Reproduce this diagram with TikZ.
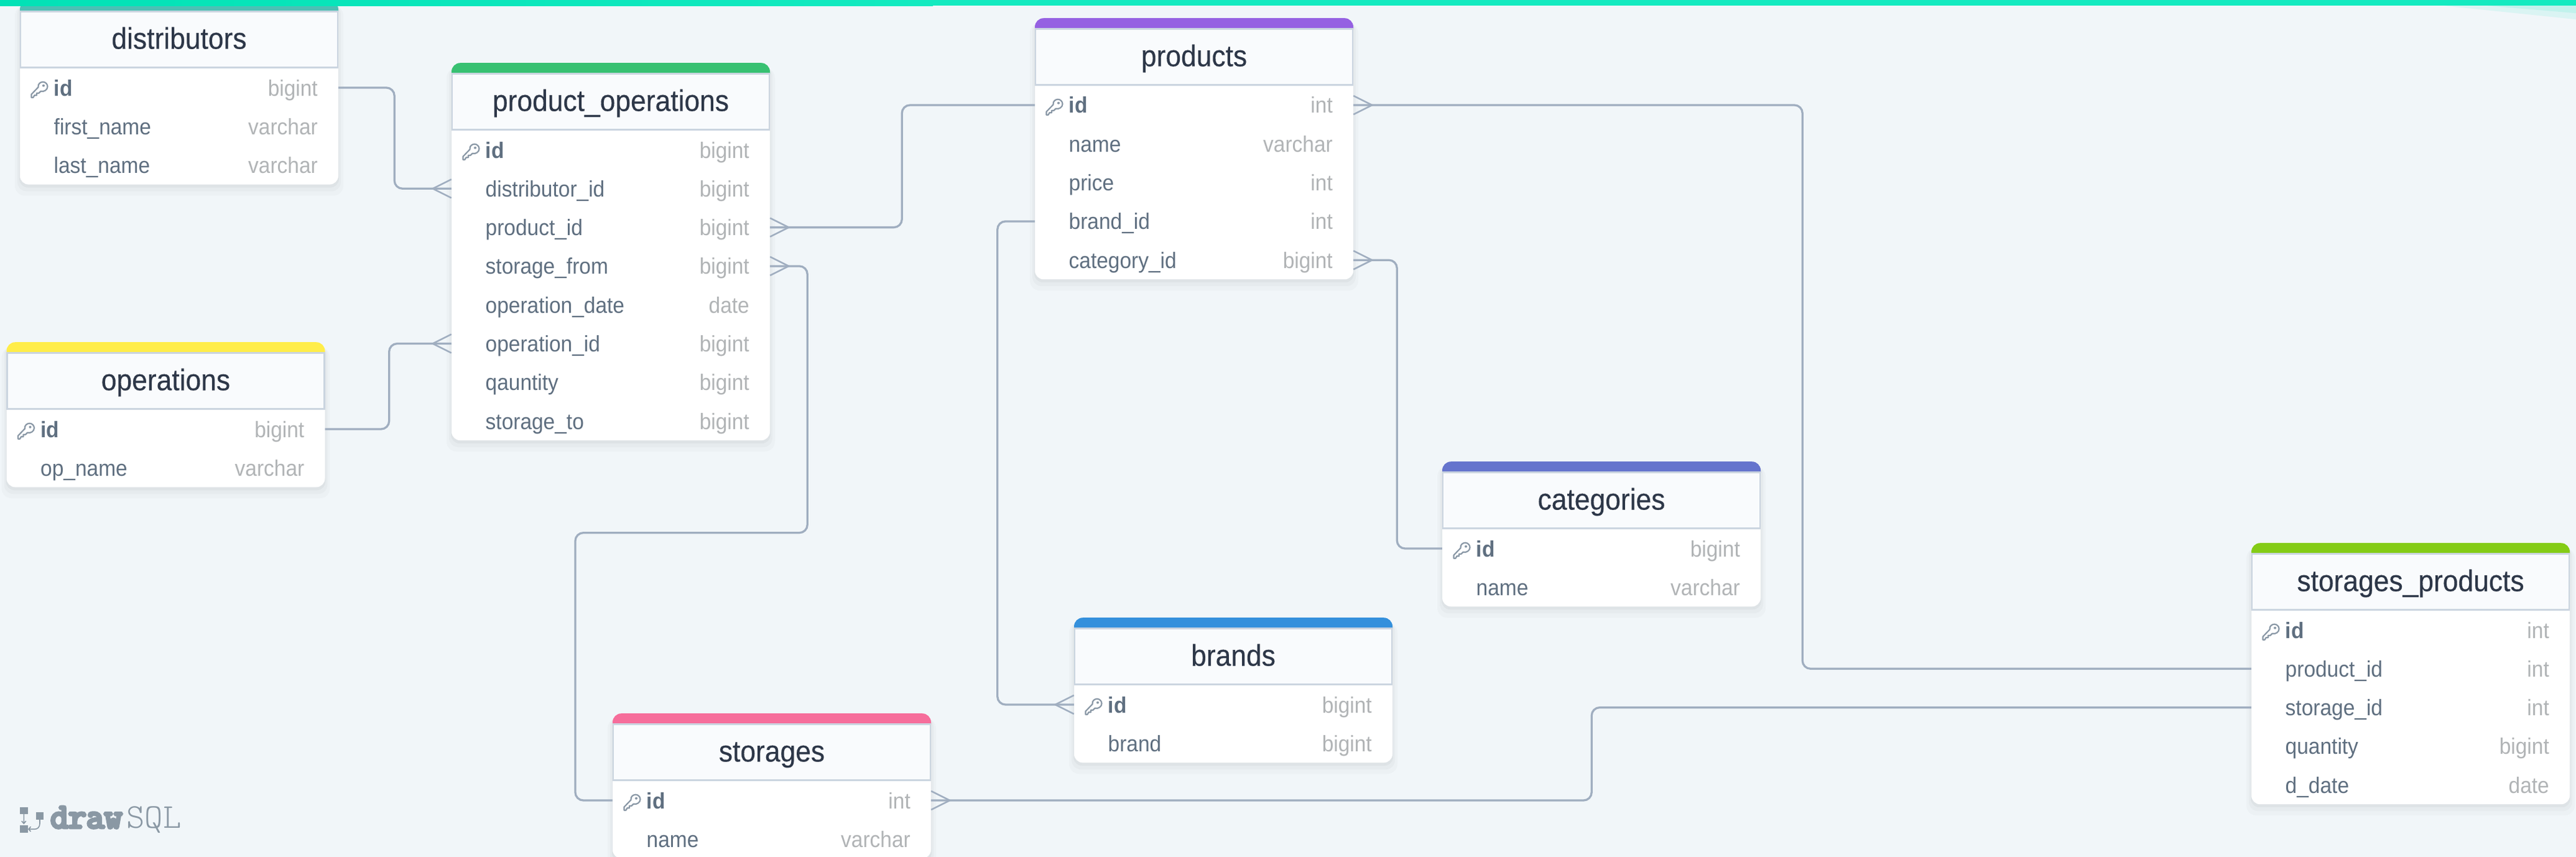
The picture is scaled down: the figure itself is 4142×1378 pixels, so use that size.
\documentclass[tikz,border=0pt]{standalone}
\usepackage{fontspec}
\setmainfont[FakeStretch=0.93]{Liberation Sans}
\newfontfamily\titlefont[FakeStretch=0.925,FakeBold=0.25]{Liberation Sans}
\newfontfamily\logoheavy[FakeBold=8]{Latin Modern Mono}
\newfontfamily\logothin{Latin Modern Mono Light}
\definecolor{canvasbg}{HTML}{F1F6F9}
\definecolor{headbg}{HTML}{F9FBFD}
\definecolor{headline}{HTML}{CBD5E0}
\definecolor{connline}{HTML}{A0AEC0}
\definecolor{fieldtxt}{HTML}{5F6F80}
\definecolor{typetxt}{HTML}{B1B4B6}
\definecolor{titletxt}{HTML}{2D3748}
\definecolor{keycol}{HTML}{8A98A6}
\definecolor{logocol}{HTML}{8A98A4}
\definecolor{topleft}{HTML}{02E2B6}
\definecolor{topright}{HTML}{14EAC0}
\definecolor{barteal}{HTML}{4DC0B5}
\definecolor{bargreen}{HTML}{38C172}
\definecolor{barpurple}{HTML}{9561E2}
\definecolor{baryellow}{HTML}{FFED4A}
\definecolor{barindigo}{HTML}{6574CD}
\definecolor{barblue}{HTML}{3490DC}
\definecolor{barpink}{HTML}{F66D9B}
\definecolor{barlime}{HTML}{84CC16}
\tikzset{
  x=1pt,y=-1pt,
  connector/.style={draw=connline,line width=3.3pt,rounded corners=13pt},
  crowfoot/.style={draw=connline,line width=2.6pt,line join=miter},
  rowanchor/.style={rectangle,inner sep=0pt,minimum width=512pt,minimum height=62pt},
  tablebody/.style={rectangle,fill=white,rounded corners=14pt,inner sep=0pt,minimum width=512pt},
  tablehead/.style={rectangle,fill=headbg,draw=headline,line width=2.5pt,inner sep=0pt,minimum width=510pt,minimum height=90pt},
  tabletitle/.style={anchor=base,inner sep=0pt,text=titletxt,font=\titlefont\fontsize{48}{54}\selectfont},
  fieldname/.style={anchor=base west,inner sep=0pt,text=fieldtxt,font=\fontsize{36}{42}\selectfont},
  fieldkey/.style={anchor=base west,inner sep=0pt,text=fieldtxt,font=\fontsize{36}{42}\selectfont\bfseries},
  fieldtype/.style={anchor=base east,inner sep=0pt,text=typetxt,font=\fontsize{36}{42}\selectfont},
  logotext/.style={anchor=base west,inner sep=0pt,text=logocol},
}
% key icon: #1 x of table, #2 y of icon top
\newcommand\keyicon[2]{%
  \begin{scope}[shift={(#1+18,#2)}]
    \draw[keycol,line width=2.2pt,line join=round]
      (11.5,9) .. controls (10.5,3) and (16,0.5) .. (19,0.5)
      .. controls (23,0.5) and (26.5,4) .. (26.5,8)
      .. controls (26.5,13) and (21,17) .. (15.5,15.5)
      -- (12.5,18.5) -- (9,18.5) -- (9,22) -- (5.5,22) -- (3.5,25.5) -- (0.5,25.5) -- (0.5,20.5) -- cycle;
    \fill[keycol] (20,6.5) circle (2);
  \end{scope}}
% #1 id, #2 x, #3 top y, #4 colour, #5 title, #6 number of rows, #7 rows
\newcommand\ertable[7]{%
  \fill[black,opacity=0.018,rounded corners=16pt] (#2-8,#3+8) rectangle (#2+520,#3+108.5+62.3*#6+18);
  \fill[black,opacity=0.022,rounded corners=15pt] (#2-4,#3+6) rectangle (#2+516,#3+108.5+62.3*#6+11);
  \fill[black,opacity=0.03,rounded corners=14pt] (#2-1,#3+4) rectangle (#2+513,#3+108.5+62.3*#6+5);
  \node[tablebody,minimum height={108.5pt+62.3pt*#6}] (#1) at (#2+256,#3+54.25+31.15*#6) {};
  \fill[#4] (#2,#3+18) [rounded corners=14pt] -- (#2,#3) -- (#2+512,#3) [sharp corners] -- (#2+512,#3+18) -- cycle;
  \node[tablehead] (#1-head) at (#2+256,#3+62.5) {};
  \node[tabletitle] (#1-title) at (#2+256,#3+77.3) {#5};
  \foreach \fnm/\fty [count=\fidx from 0] in {#7} {
    \node[rowanchor] (#1-\fidx) at (#2+256,#3+139.8+62.3*\fidx) {};
    \ifnum\fidx=0
      \keyicon{#2}{#3+130}
      \node[fieldkey] (#1-\fidx-name) at (#2+54.5,#3+152.8+62.3*\fidx) {\fnm};
    \else
      \node[fieldname] (#1-\fidx-name) at (#2+54.5,#3+152.8+62.3*\fidx) {\fnm};
    \fi
    \node[fieldtype] (#1-\fidx-type) at (#2+479,#3+152.8+62.3*\fidx) {\fty};
  }}
\newcommand\footleft[1]{\draw[crowfoot] (#1.west) ++(0,-15) -- ++(-30,15) -- ++(30,15);}
\newcommand\footright[1]{\draw[crowfoot] (#1.east) ++(0,-15) -- ++(30,15) -- ++(-30,15);}
\begin{document}
\begin{tikzpicture}
\useasboundingbox (0,0) rectangle (4142,1378);
\clip (0,0) rectangle (4142,1378);
\fill[canvasbg] (0,0) rectangle (4142,1378);
\begin{scope}[shift={(0,1.2)}]

\ertable{dist}{32}{0}{barteal}{distributors}{3}{id/bigint,first\_name/varchar,last\_name/varchar}
\ertable{pop}{726}{100}{bargreen}{product\_operations}{8}{id/bigint,distributor\_id/bigint,product\_id/bigint,storage\_from/bigint,operation\_date/date,operation\_id/bigint,qauntity/bigint,storage\_to/bigint}
\ertable{prod}{1664}{28}{barpurple}{products}{5}{id/int,name/varchar,price/int,brand\_id/int,category\_id/bigint}
\ertable{oper}{10.5}{549}{baryellow}{operations}{2}{id/bigint,op\_name/varchar}
\ertable{cat}{2319}{741}{barindigo}{categories}{2}{id/bigint,name/varchar}
\ertable{brand}{1727}{992}{barblue}{brands}{2}{id/bigint,brand/bigint}
\ertable{stor}{985}{1146}{barpink}{storages}{2}{id/int,name/varchar}
\ertable{sp}{3620}{872}{barlime}{storages\_products}{5}{id/int,product\_id/int,storage\_id/int,quantity/bigint,d\_date/date}

% relations
\draw[connector] (dist-0.east) -- ++(90,0) |- (pop-1.west);
\footleft{pop-1}
\draw[connector] (oper-0.east) -- ++(103,0) |- (pop-5.west);
\footleft{pop-5}
\draw[connector] (pop-2.east) -- ++(212,0) |- (prod-0.west);
\footright{pop-2}
\coordinate (stor-turn) at (925,855.5);
\draw[connector] (pop-3.east) -- ++(60,0) |- (stor-turn) |- (stor-0.west);
\footright{pop-3}
\draw[connector] (prod-3.west) -- ++(-60,0) |- (brand-0.west);
\footleft{brand-0}
\draw[connector] (prod-0.east) -- ++(722,0) |- (sp-1.west);
\footright{prod-0}
\draw[connector] (prod-4.east) -- ++(70,0) |- (cat-0.west);
\footright{prod-4}
\draw[connector] (stor-0.east) -- ++(1062,0) |- (sp-2.west);
\footright{stor-0}

% logo
\fill[logocol] (32,1296.5) rectangle (44.6,1308);
\fill[logocol] (58,1305) rectangle (70,1317);
\fill[logocol] (32,1325.5) rectangle (44.6,1337.5);
\coordinate (logo-a) at (38.3,1308);
\coordinate (logo-b) at (38.3,1323);
\coordinate (logo-c) at (64,1317);
\coordinate (logo-d) at (46,1332);
\draw[logocol,line width=1.6pt] (logo-a) -- (logo-b) (34.8,1319) -- (logo-b) -- (41.8,1319);
\draw[logocol,line width=1.6pt] (logo-c) -- (64,1323) .. controls (64,1329) and (60,1332) .. (56,1332) -- (logo-d) (49.5,1328) -- (logo-d) -- (49.5,1336);
\node[logotext,font=\logoheavy\fontsize{56}{60}\selectfont] (logo-draw) at (81,1330) {draw};
\node[logotext,font=\logothin\fontsize{56}{60}\selectfont] (logo-sql) at (203,1330) {SQL};

% top band with its faint glow at the right end
\fill[left color=topleft,right color=topright] (0,-5) rectangle (1500,8);
\fill[topright] (1500,-5) rectangle (4142,8);
\fill[topright,opacity=0.10] (3930,8) -- (4142,8) -- (4142,30) -- cycle;
\fill[topright,opacity=0.12] (4000,8) -- (4142,8) -- (4142,20) -- cycle;
\end{scope}
\end{tikzpicture}
\end{document}
